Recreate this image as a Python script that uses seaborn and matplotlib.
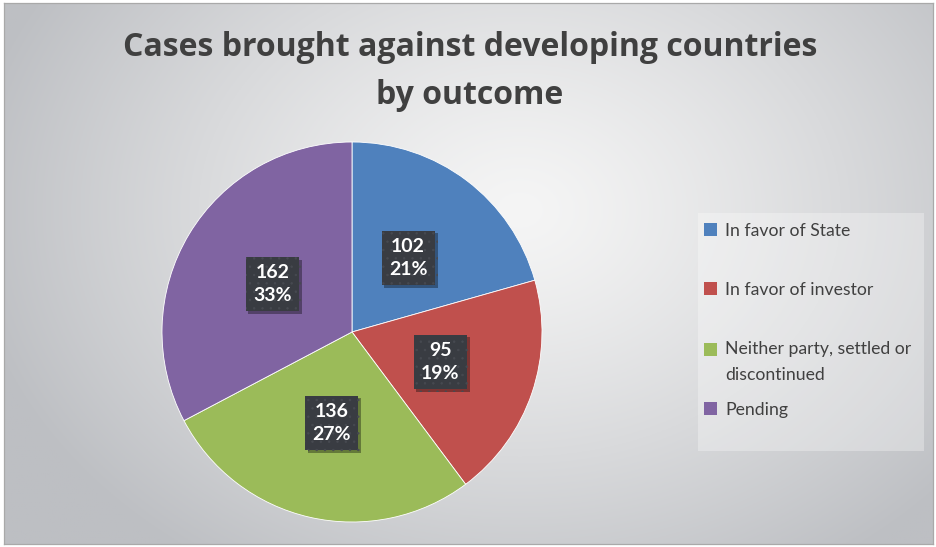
import numpy as np
import matplotlib
matplotlib.use("Agg")
import matplotlib.pyplot as plt
import matplotlib.patheffects as pe
from matplotlib.patches import Rectangle, Patch
from matplotlib.colors import to_rgb
import seaborn as sns

# Outcome categories and case counts
categories = [
    "In favor of State",
    "In favor of investor",
    "Neither party, settled or\ndiscontinued",
    "Pending",
]
cases = [102, 95, 136, 162]
slice_colors = ["#4f81bd", "#c0504d", "#9bbb59", "#8064a2"]
title_lines = ["Cases brought against developing countries", "by outcome"]

sns.set_theme(style="white")
plt.rcParams["font.family"] = ["Lato", "DejaVu Sans"]
plt.rcParams["hatch.linewidth"] = 0.5

W, H = 936, 547
fig = plt.figure(figsize=(W / 100, H / 100), dpi=100)
fig.patch.set_facecolor("white")

# Chart area with a soft radial shading and thin grey border
left, top, right, bottom = 4, 3, 933, 544
bg = fig.add_axes([left / W, (H - bottom) / H, (right - left) / W, (bottom - top) / H])
xs = np.linspace(left, right, 470)
ys = np.linspace(top, bottom, 280)
xx, yy = np.meshgrid(xs, ys)
d = np.sqrt(((xx - 520) / 560) ** 2 + ((yy - 210) / 430) ** 2)
d = np.clip(d, 0, 1) ** 1.25
c0 = np.array(to_rgb("#f5f5f5"))
c1 = np.array(to_rgb("#bdbfc3"))
img = c0[None, None, :] * (1 - d[..., None]) + c1[None, None, :] * d[..., None]
bg.imshow(img, extent=(left, right, bottom, top), aspect="auto", origin="upper")
bg.set_xlim(left, right)
bg.set_ylim(bottom, top)
bg.set_xticks([])
bg.set_yticks([])
for s in bg.spines.values():
    s.set_color("#a9a9a9")
    s.set_linewidth(0.9)

# Pie chart
cx, cy, r = 352, 332, 190
ax = fig.add_axes([(cx - r) / W, (H - cy - r) / H, 2 * r / W, 2 * r / H])
ax.patch.set_alpha(0)

total = sum(cases)
label_texts = iter(f"{v}\n{round(100 * v / total)}%" for v in cases)

wedges, _, autotexts = ax.pie(
    cases,
    colors=slice_colors,
    startangle=90,
    counterclock=False,
    autopct=lambda p: next(label_texts),
    pctdistance=0.49,
    wedgeprops=dict(edgecolor="white", linewidth=0.6),
    textprops=dict(color="white", fontsize=14, fontweight="bold"),
)
ax.set_xlim(-1, 1)
ax.set_ylim(-1, 1)
ax.set_aspect("equal")

for t in autotexts:
    t.set_linespacing(1.4)
    t.set_bbox(dict(boxstyle="square,pad=0.38", facecolor="#393c42",
                    edgecolor="#474a51", linewidth=0, hatch=".."))
    t.get_bbox_patch().set_path_effects([
        pe.SimplePatchShadow(offset=(2, -2), shadow_rgbFace="black", alpha=0.35),
        pe.Normal(),
    ])

# Title, two centred lines
for line, base in zip(title_lines, [56, 104]):
    fig.text(470 / W, 1 - base / H, line, ha="center", va="baseline",
             fontsize=23, fontweight="bold", color="#404040",
             family=["Open Sans", "DejaVu Sans"])

# Legend panel
fig.add_artist(Rectangle((698 / W, 1 - 451 / H), 226 / W, 238 / H,
                         transform=fig.transFigure, facecolor="white",
                         alpha=0.3, edgecolor="none", zorder=1))

entry_y = [231, 290, 362, 410]
for lab, col, yc in zip(categories, slice_colors, entry_y):
    leg = fig.legend(handles=[Patch(facecolor=col, edgecolor="none")], labels=[lab],
                     loc="center left", bbox_to_anchor=(704 / W, 1 - yc / H),
                     frameon=False, fontsize=12.7, handlelength=0.75,
                     handleheight=0.75, handletextpad=0.45, borderpad=0,
                     borderaxespad=0, labelcolor="#404040", labelspacing=0)
    for txt in leg.get_texts():
        txt.set_linespacing(1.7)
    n_lines = lab.count("\n")
    if n_lines:
        # keep the colour key level with the first line of a wrapped label
        h = leg.legend_handles[0]
        h.set_y(h.get_y() + 9 * n_lines)

fig.savefig("out.png", dpi=100, facecolor="white")
